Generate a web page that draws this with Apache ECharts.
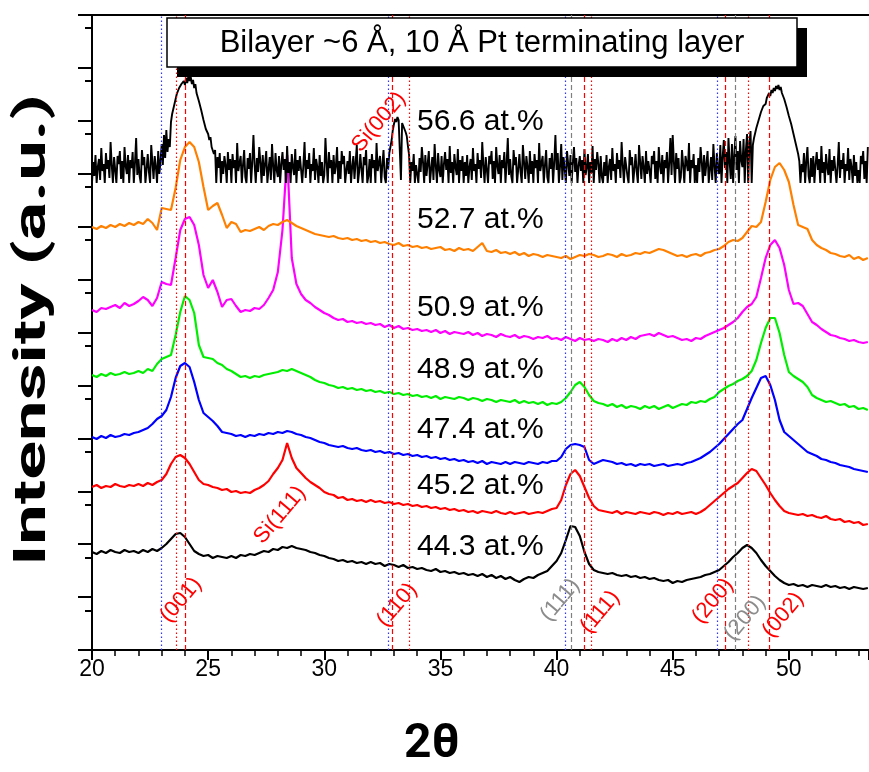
<!DOCTYPE html>
<html><head><meta charset="utf-8">
<script src="https://cdn.jsdelivr.net/npm/echarts@6/dist/echarts.min.js"></script>
<style>html,body{margin:0;padding:0;background:#fff}#c{width:869px;height:772px}</style>
</head><body><div id="c"></div><script>
// 2-theta sampling grids (degrees)
const twoTheta = [];      // 20.0 .. 53.4 step 0.2 (168 points)
for (let i = 0; i < 168; i++) twoTheta.push(+(20 + 0.2 * i).toFixed(1));
const twoThetaFine = [];  // 20.00 .. 53.40 step 0.05 (669 points)
for (let i = 0; i < 669; i++) twoThetaFine.push(+(20 + 0.05 * i).toFixed(2));

// Offset intensities (a.u.)
const at443 = [98,96,99,97,100,98,97,100,98,99,
 97,100,98,101,99,102,106,111,116,117,
 113,106,99,96,94,95,92,94,93,92,
 94,92,95,94,96,95,97,99,98,101,
 100,103,102,104,102,101,100,98,97,95,
 94,92,91,89,90,88,89,87,88,86,
 88,86,87,84,86,85,83,85,82,83,
 81,82,80,79,81,78,79,77,78,76,
 77,75,76,74,76,73,75,72,74,71,
 73,70,68,71,73,72,75,77,79,84,
 89,97,110,124,123,114,98,86,80,78,
 77,76,77,75,74,75,73,74,72,73,
 71,72,70,69,70,67,69,68,70,71,
 72,73,75,76,78,80,84,88,93,97,
 102,105,102,97,90,84,79,74,70,67,
 65,66,64,65,63,65,64,63,65,63,
 64,62,63,61,63,62,61,62];
const at452 = [163,165,162,164,163,166,164,163,165,164,
 166,164,167,165,168,170,176,186,193,195,
 192,186,178,170,166,165,163,162,160,161,
 158,159,157,158,157,160,162,165,169,176,
 182,190,207,192,182,177,172,168,165,162,
 158,156,155,152,153,150,151,149,150,148,
 150,148,149,147,148,146,147,145,146,144,
 145,143,144,142,143,141,142,140,141,139,
 140,138,139,137,139,138,137,139,137,136,
 138,136,137,138,136,137,138,137,139,141,
 142,150,165,176,180,174,163,152,144,140,
 139,138,137,139,136,138,137,136,138,137,
 136,138,137,135,137,136,138,136,137,138,
 136,138,141,145,149,153,157,161,164,167,
 172,177,181,179,172,165,157,150,144,139,
 137,136,135,136,134,135,133,132,134,131,
 130,131,128,129,127,128,125,126];
const at474 = [213,211,214,212,215,213,214,216,215,217,
 218,220,222,226,231,234,240,253,272,284,
 287,283,268,250,237,233,229,224,218,217,
 216,214,215,213,215,214,216,215,217,216,
 218,217,219,218,216,215,213,212,210,208,
 207,205,204,203,204,202,201,202,200,199,
 200,198,199,197,198,196,197,195,196,194,
 195,193,194,192,193,191,192,190,191,189,
 190,188,189,187,189,186,188,187,186,188,
 186,188,187,186,188,187,186,188,187,189,
 189,193,201,205,206,205,203,190,186,188,
 190,189,188,186,187,185,186,184,186,185,
 186,184,185,186,184,185,186,185,187,188,
 190,192,195,198,202,206,211,216,221,226,
 230,241,252,262,272,274,265,250,230,218,
 214,210,206,202,198,196,194,191,190,188,
 187,185,184,183,181,180,179,178];
const at489 = [275,273,276,274,277,275,276,278,276,277,
 279,277,281,279,286,291,293,295,315,338,
 354,350,337,305,293,292,291,287,285,281,
 279,276,273,274,272,274,273,275,276,277,
 278,280,279,281,279,277,275,273,270,268,
 267,265,264,262,263,261,262,260,261,259,
 260,258,259,257,258,256,257,255,256,254,
 255,253,254,252,254,251,253,252,251,253,
 252,250,252,251,249,251,250,248,250,249,
 248,250,247,249,247,248,246,248,245,247,
 246,248,252,258,265,268,263,255,249,247,
 246,244,246,243,245,242,244,243,241,244,
 242,244,241,243,245,242,244,246,245,248,
 247,249,248,251,253,258,261,264,266,269,
 271,274,279,290,307,322,332,332,317,295,
 278,274,271,268,263,255,252,250,248,249,
 247,245,246,243,244,241,242,240];
const at509 = [340,338,342,341,343,345,342,347,344,346,
 349,353,350,344,352,368,366,365,392,420,
 431,433,425,405,375,362,370,358,343,350,
 351,344,338,340,339,342,341,345,352,360,
 378,420,495,392,366,356,350,347,343,340,
 337,335,332,330,331,328,329,327,328,326,
 327,325,326,323,325,322,324,321,322,320,
 321,319,320,318,320,317,319,316,318,317,
 316,318,315,317,314,316,315,313,316,314,
 313,315,312,314,313,311,313,312,314,311,
 312,310,313,311,309,312,310,311,309,311,
 310,308,311,309,312,310,313,311,314,315,
 316,314,317,315,313,314,312,310,311,309,
 312,311,314,316,318,320,322,325,328,332,
 338,343,346,353,372,392,405,410,402,385,
 360,346,347,344,336,328,325,321,318,315,
 314,312,311,309,310,308,307,308];
const at527 = [423,421,424,422,425,423,426,424,427,425,
 428,426,431,427,420,442,441,440,462,490,
 503,508,503,488,463,440,444,447,435,422,
 428,426,418,420,419,421,423,420,424,426,
 425,428,430,427,424,422,420,418,416,415,
 414,413,414,412,411,412,410,411,409,410,
 408,409,407,408,406,405,407,404,405,403,
 404,402,403,401,402,403,400,401,399,402,
 400,401,399,403,407,399,398,400,397,398,
 396,398,395,397,394,396,395,393,395,394,
 393,392,394,391,393,395,394,396,395,393,
 394,396,395,393,396,394,395,397,396,398,
 397,399,401,400,398,396,394,395,393,395,
 396,394,397,398,400,401,404,408,410,409,
 412,418,424,423,428,448,470,483,487,480,
 468,445,425,423,421,410,405,402,400,397,
 396,394,393,395,391,393,390,392];
// 56.6 at.% trace, one row per degree (0.05 deg steps), floor-clipped detector noise
const at566 = [
 467,488,474,495,467,483,491,470,502,479,486,467,497,481,490,472,508,485,467,493,
 480,467,494,486,499,471,489,467,503,484,476,495,467,490,482,498,467,487,512,475,
 491,474,467,500,485,493,467,481,496,478,467,505,488,471,494,483,467,499,476,489,
 506,485,515,492,520,498,511,503,528,536,538,546,548,556,555,562,560,566,564,569,
 565,572,567,574,569,573,566,570,562,566,557,559,549,551,540,541,530,532,521,522,
 516,510,513,503,505,496,500,467,493,482,497,467,489,476,494,485,467,498,480,491,
 467,496,482,490,467,507,479,487,494,467,485,500,473,467,492,481,497,467,488,515,
 485,467,492,478,503,488,467,495,474,486,499,467,481,493,470,506,484,467,497,480,
 473,494,467,486,498,480,491,467,504,477,488,467,496,483,475,501,467,490,479,494,
 493,467,485,508,472,490,481,497,467,486,479,502,470,491,483,467,495,474,488,467,
 475,512,487,467,498,482,490,467,495,476,484,503,467,489,471,499,486,494,467,480,
 489,476,499,467,483,494,471,488,505,467,478,496,481,467,493,485,500,467,474,491,
 467,496,482,490,467,507,479,487,494,467,485,500,473,467,492,481,497,498,510,520,
 526,531,528,533,530,532,470,527,524,526,518,514,504,495,467,488,479,496,467,485,
 485,467,492,478,503,488,467,495,474,486,499,467,481,493,470,506,484,467,497,480,
 473,494,467,486,498,480,491,467,504,477,488,467,496,483,475,501,467,490,479,494,
 467,488,474,495,467,483,491,470,502,479,486,467,497,481,490,472,508,485,467,493,
 480,467,494,486,499,471,489,467,503,484,476,495,467,490,482,498,467,487,512,475,
 491,474,467,500,485,493,467,481,496,478,467,505,488,471,494,483,467,499,476,489,
 467,496,482,490,467,507,479,487,494,467,485,500,473,467,492,481,497,467,488,515,
 480,497,467,484,506,470,493,481,467,499,486,474,495,467,488,503,478,492,467,485,
 494,479,490,467,501,475,483,496,467,488,477,504,467,491,480,498,486,467,494,473,
 467,488,474,495,467,483,491,470,502,479,486,467,497,481,490,472,508,485,467,493,
 491,474,467,500,485,493,467,481,496,478,467,505,488,471,494,483,467,499,476,489,
 480,467,494,486,499,471,489,467,503,484,476,495,467,490,482,498,467,487,512,475,
 515,488,467,497,481,492,467,473,500,485,467,494,487,479,507,467,490,482,496,467,
 485,467,492,478,503,488,467,495,474,486,499,467,481,493,470,506,484,467,497,480,
 476,505,467,493,510,482,498,467,512,488,471,506,467,495,514,480,499,467,509,490,
 483,511,467,500,516,467,507,519,467,505,512,513,522,522,530,530,538,537,544,543,
 546,552,551,557,554,560,557,562,559,564,561,565,560,563,557,558,551,551,543,542,
 534,533,526,524,516,514,506,504,496,489,467,486,478,497,467,489,503,474,467,492,
 473,494,467,486,498,480,491,467,504,477,488,467,496,483,475,501,467,490,479,494,
 493,467,485,508,472,490,481,497,467,486,479,502,470,491,483,467,495,474,488,467,
 480,467,494,486,499,471,489,467,503];

// Composition labels: [2theta, intensity, text]
const compLabels = [
 [33.99, 528, '56.6 at.%'], [33.99, 430, '52.7 at.%'], [33.99, 342, '50.9 at.%'],
 [33.99, 280, '48.9 at.%'], [33.99, 220, '47.4 at.%'], [33.99, 164, '45.2 at.%'],
 [33.99, 103, '44.3 at.%']
];
// Reflection labels: [2theta, intensity, text, colour]
const peakLabels = [
 [23.83, 50, '(001)', '#ff0000'], [33.13, 45, '(110)', '#ff0000'],
 [40.15, 50, '(111)', '#8c8c8c'], [41.87, 38, '(111)', '#ff0000'],
 [46.73, 49, '(200)', '#ff0000'], [48.11, 32, '(200)', '#8c8c8c'],
 [49.75, 35, '(002)', '#ff0000'], [28.09, 135, 'Si(111)', '#ff0000'],
 [32.35, 528, 'Si(002)', '#ff0000']
];
// Reference line positions (2theta)
const blueDotted = [22.97, 32.76, 40.36, 46.92];
const redDotted  = [23.62, 33.65, 41.50, 48.27];
const redDashed  = [24.03, 32.93, 41.17, 47.25, 49.14];
const greyDashed = [40.62, 47.68];

const xTicks = [20, 25, 30, 35, 40, 45, 50];
const yMax = 635, yStep = 52.916;

const FONT = 'Arial';
const BOLDFONT = 'Roboto';
const zip = (xs, ys) => ys.map((v, i) => [xs[i], v]);

const refLineData = [
 ...blueDotted.map(v => ({xAxis: v, lineStyle: {color: '#3333ff', type: [1.5, 2.5], width: 1.2}})),
 ...redDotted.map(v => ({xAxis: v, lineStyle: {color: '#ff0000', type: [1.5, 2.5], width: 1.2}})),
 ...redDashed.map(v => ({xAxis: v, lineStyle: {color: '#ff0000', type: [5, 3], width: 1.2}})),
 ...greyDashed.map(v => ({xAxis: v, lineStyle: {color: '#808080', type: [5, 3], width: 1.2}}))
];

const minorVals = [];
for (let k = 1; k <= 12; k++) minorVals.push(yStep * k - yStep / 4);

const trace = (name, data, color, xs, width, z) => ({
 name, type: 'line', data: zip(xs, data), showSymbol: false, symbol: 'none',
 lineStyle: {color, width}, itemStyle: {color}, z, silent: true, sampling: null
});

const chart = echarts.init(document.getElementById('c'), null, {renderer: 'canvas'});
chart.setOption({
 animation: false,
 backgroundColor: '#fff',
 textStyle: {fontFamily: FONT},
 grid: {left: 92, top: 15, width: 777, height: 635, containLabel: false},
 xAxis: [{
   type: 'value', min: 20, max: 53.45, interval: 5, position: 'bottom',
   axisLine: {lineStyle: {color: '#000', width: 2}},
   axisTick: {length: 10, lineStyle: {color: '#000', width: 2}},
   minorTick: {show: true, splitNumber: 5, length: 6, lineStyle: {color: '#000', width: 1.5}},
   axisLabel: {color: '#000', fontSize: 23, fontFamily: FONT, margin: 8, showMaxLabel: false,
     formatter: v => xTicks.includes(v) ? String(v) : ''},
   splitLine: {show: false}
 }, {
   type: 'value', min: 20, max: 53.45, position: 'top',
   axisLine: {onZero: false, lineStyle: {color: '#000', width: 2}},
   axisTick: {show: false}, axisLabel: {show: false}, splitLine: {show: false}
 }],
 yAxis: [{
   type: 'value', min: 0, max: yMax, interval: yStep, position: 'left',
   axisLine: {show: true, lineStyle: {color: '#000', width: 2}},
   axisTick: {show: true, length: 14, lineStyle: {color: '#000', width: 2}},
   axisLabel: {show: false}, splitLine: {show: false}
 }, {
   type: 'value', min: 0, max: yMax, position: 'left',
   axisLine: {show: false},
   axisTick: {show: true, length: 7, customValues: minorVals, lineStyle: {color: '#000', width: 2}},
   axisLabel: {show: false}, splitLine: {show: false}
 }],
 series: [
  {type: 'line', data: [], z: 1, silent: true,
   markLine: {silent: true, symbol: ['none', 'none'], label: {show: false}, animation: false, data: refLineData}},
  trace('44.3', at443, '#000000', twoTheta, 2.2, 3),
  trace('45.2', at452, '#ff0000', twoTheta, 2.2, 3),
  trace('47.4', at474, '#0000ff', twoTheta, 2.2, 3),
  trace('48.9', at489, '#00ee00', twoTheta, 2.2, 3),
  trace('50.9', at509, '#ff00ff', twoTheta, 2.2, 3),
  trace('52.7', at527, '#ff8000', twoTheta, 2.2, 3),
  trace('56.6', at566, '#000000', twoThetaFine, 1.9, 4),
  {type: 'scatter', symbolSize: 0, silent: true, z: 6, itemStyle: {opacity: 1},
   data: compLabels.map(d => ({value: [d[0], d[1]], label: {formatter: d[2]}})),
   label: {show: true, position: 'right', distance: 0, align: 'left', verticalAlign: 'middle',
     color: '#000', fontSize: 30, fontFamily: FONT}},
  {type: 'scatter', symbolSize: 0, silent: true, z: 6, itemStyle: {opacity: 1},
   data: peakLabels.map(d => ({value: [d[0], d[1]], label: {formatter: d[2], color: d[3]}})),
   label: {show: true, position: 'inside', align: 'center', verticalAlign: 'middle',
     rotate: 50, fontSize: 22, fontFamily: FONT}}
 ],
 graphic: [
  {type: 'rect', z: 100, shape: {x: 177, y: 28, width: 630, height: 49}, style: {fill: '#000'}},
  {type: 'rect', z: 101, shape: {x: 167, y: 18, width: 630, height: 49}, style: {fill: '#fff', stroke: '#000', lineWidth: 1.5}},
  {type: 'text', z: 102, x: 482, y: 43, style: {text: 'Bilayer ~6 Å, 10 Å Pt terminating layer', fontSize: 31, fontFamily: FONT, fill: '#000', align: 'center', verticalAlign: 'middle'}},
  {type: 'text', z: 102, x: 34, y: 330, rotation: Math.PI / 2, scaleX: 1.64,
   style: {text: 'Intensity (a.u.)', fontSize: 44, fontWeight: 'bold', fontFamily: BOLDFONT, fill: '#000', align: 'center', verticalAlign: 'middle'}},
  {type: 'text', z: 102, x: 432, y: 745, style: {text: '2θ', fontSize: 48, fontWeight: 'bold', fontFamily: BOLDFONT, fill: '#000', align: 'center', verticalAlign: 'middle'}}
 ]
});
</script></body></html>
